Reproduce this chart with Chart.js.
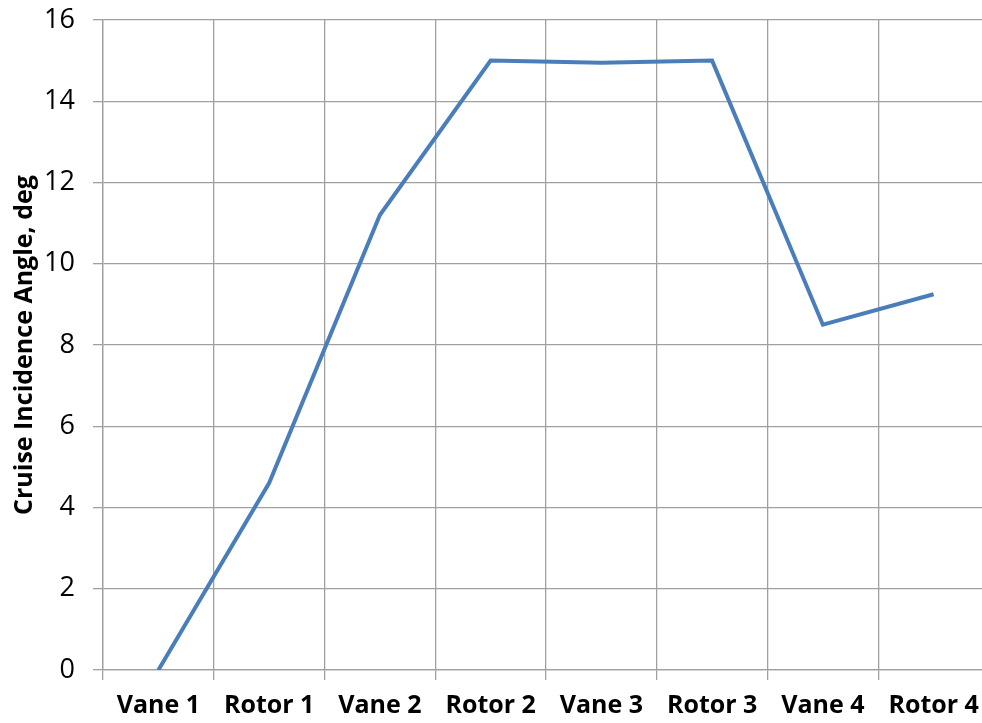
<!DOCTYPE html>
<html>
<head>
<meta charset="utf-8">
<script src="https://cdn.jsdelivr.net/npm/chart.js@4/dist/chart.umd.min.js"></script>
<style>
  html, body { margin: 0; padding: 0; background: #fff; overflow: hidden; }
  #wrap { position: absolute; left: 0; top: 0; width: 989px; height: 723px; }
</style>
</head>
<body>
<div id="wrap"><canvas id="canvas"></canvas></div>
<script>
var stages = ['Vane 1', 'Rotor 1', 'Vane 2', 'Rotor 2', 'Vane 3', 'Rotor 3', 'Vane 4', 'Rotor 4'];
var incidence = [0, 4.6, 11.2, 15.0, 14.95, 15.0, 8.5, 9.25];
var yTicks = [0, 2, 4, 6, 8, 10, 12, 14, 16];

var gridColor = '#a0a0a0';
var fontFamily = "'Open Sans', 'Liberation Sans', sans-serif";

var ctx = document.getElementById('canvas').getContext('2d');
var chart = new Chart(ctx, {
  type: 'line',
  data: {
    labels: stages,
    datasets: [{
      label: 'Incidence',
      data: incidence,
      borderColor: '#4a7ebb',
      borderWidth: 4,
      pointRadius: 0,
      fill: false,
      tension: 0
    }]
  },
  options: {
    responsive: true,
    maintainAspectRatio: false,
    animation: false,
    layout: { padding: { top: 20, right: 0, bottom: 0, left: 0 } },
    plugins: {
      legend: { display: false },
      tooltip: { enabled: false }
    },
    scales: {
      x: {
        offset: true,
        afterFit: function(axis) {
          axis.height = 53;
          axis.paddingLeft = 0;
          axis.paddingRight = 0;
        },
        grid: {
          offset: true,
          color: gridColor,
          lineWidth: 1.3,
          tickLength: 10,
          drawTicks: true
        },
        border: { color: gridColor, width: 1.3 },
        ticks: {
          color: '#000',
          padding: 11,
          maxRotation: 0,
          autoSkip: false,
          font: { family: fontFamily, size: 25, weight: 'bold' }
        }
      },
      y: {
        min: 0,
        max: 16,
        afterFit: function(axis) {
          axis.width = 103;
          axis.paddingTop = 0;
          axis.paddingBottom = 0;
        },
        afterBuildTicks: function(axis) {
          axis.ticks = yTicks.map(function(v) { return { value: v }; });
        },
        grid: {
          color: gridColor,
          lineWidth: 1.3,
          tickLength: 10
        },
        border: { color: gridColor, width: 1.3 },
        ticks: {
          color: '#000',
          padding: 18,
          font: { family: fontFamily, size: 27 }
        },
        title: {
          display: true,
          text: 'Cruise Incidence Angle, deg',
          color: '#000',
          padding: { top: 10, bottom: 4 },
          font: { family: fontFamily, size: 25, weight: 'bold' }
        }
      }
    }
  }
});
</script>
</body>
</html>
